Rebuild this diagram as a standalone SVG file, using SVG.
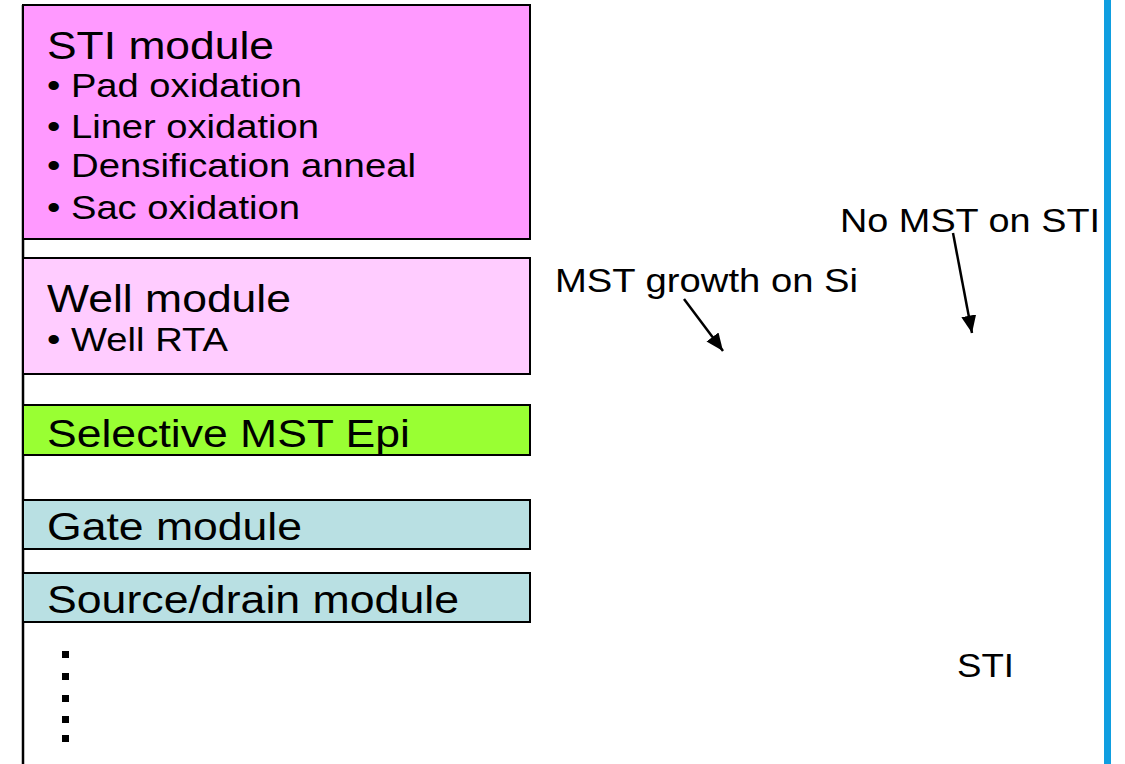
<svg xmlns="http://www.w3.org/2000/svg" width="1125" height="764" viewBox="0 0 1125 764">
<style>
.box{stroke:#000;stroke-width:2}
.t{font-family:"Liberation Sans",Arial,sans-serif;fill:#000}
.h{font-size:38px}
.b{font-size:33.5px}
.c{stroke:#000;stroke-width:2.5;fill:none;marker-end:url(#ah)}
</style>
<defs>
<marker id="ah" markerWidth="7" markerHeight="6" refX="7" refY="3" orient="auto" markerUnits="strokeWidth" viewBox="0 0 7 6">
<path d="M0,0 L7,3 L0,6 Z" fill="#000"/>
</marker>
</defs>
<rect width="1125" height="764" fill="#fff"/>
<line x1="23" y1="5" x2="23" y2="764" stroke="#000" stroke-width="2.5"/>
<rect x="1104" y="0" width="7" height="764" fill="#0f9ee0"/>
<g id="sti-module">
<rect class="box" x="23" y="5" width="507" height="234" fill="#ff99ff"/>
<text class="t h" x="47" y="59" textLength="227" lengthAdjust="spacingAndGlyphs">STI module</text>
<text class="t b" x="47" y="97" textLength="255" lengthAdjust="spacingAndGlyphs">• Pad oxidation</text>
<text class="t b" x="47" y="138" textLength="272" lengthAdjust="spacingAndGlyphs">• Liner oxidation</text>
<text class="t b" x="47" y="177" textLength="369" lengthAdjust="spacingAndGlyphs">• Densification anneal</text>
<text class="t b" x="47" y="219" textLength="253" lengthAdjust="spacingAndGlyphs">• Sac oxidation</text>
</g>
<g id="well-module">
<rect class="box" x="23" y="258" width="507" height="116" fill="#ffccff"/>
<text class="t h" x="47" y="312" textLength="244" lengthAdjust="spacingAndGlyphs">Well module</text>
<text class="t b" x="47" y="351" textLength="181" lengthAdjust="spacingAndGlyphs">• Well RTA</text>
</g>
<g id="selective-mst-epi">
<rect class="box" x="23" y="405" width="507" height="50" fill="#99ff33"/>
<text class="t h" x="47" y="447" textLength="363" lengthAdjust="spacingAndGlyphs">Selective MST Epi</text>
</g>
<g id="gate-module">
<rect class="box" x="23" y="500" width="507" height="49" fill="#b9e0e3"/>
<text class="t h" x="47" y="540" textLength="255" lengthAdjust="spacingAndGlyphs">Gate module</text>
</g>
<g id="source-drain-module">
<rect class="box" x="23" y="573" width="507" height="49" fill="#b9e0e3"/>
<text class="t h" x="47" y="613" textLength="412" lengthAdjust="spacingAndGlyphs">Source/drain module</text>
</g>
<g id="ellipsis" fill="#000">
<rect x="62" y="651" width="7" height="7"/>
<rect x="62" y="673" width="7" height="7"/>
<rect x="62" y="695" width="7" height="7"/>
<rect x="62" y="716" width="7" height="7"/>
<rect x="62" y="735" width="7" height="7"/>
</g>
<g id="labels">
<text class="t b" x="555" y="292" textLength="303" lengthAdjust="spacingAndGlyphs">MST growth on Si</text>
<text class="t b" x="840" y="232" textLength="260" lengthAdjust="spacingAndGlyphs">No MST on STI</text>
<text class="t b" x="957" y="677" textLength="57" lengthAdjust="spacingAndGlyphs">STI</text>
</g>
<g id="connectors">
<line class="c" x1="684" y1="299" x2="723" y2="351"/>
<line class="c" x1="953" y1="233" x2="972" y2="333"/>
</g>
</svg>
